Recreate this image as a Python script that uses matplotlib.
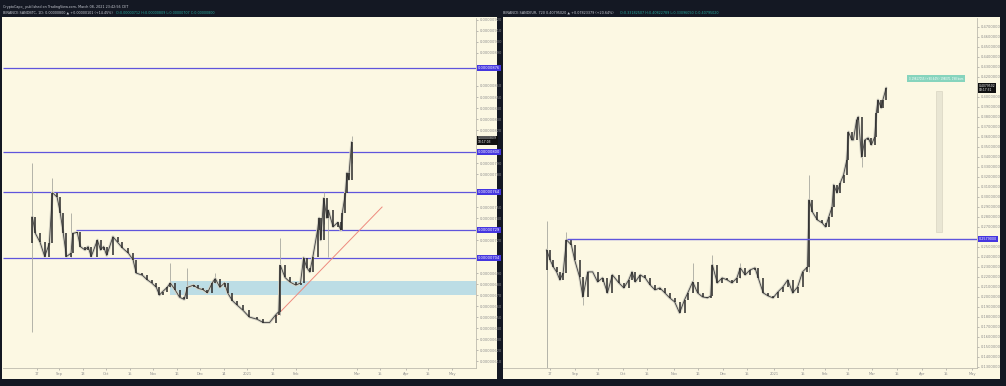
import numpy as np
import matplotlib.pyplot as plt
from matplotlib.patches import Rectangle

# ---- left chart: BINANCE:SANDBTC, 1D (price in satoshi, x = days from Aug 17 2020)
left_days = [-3, -1, 2, 5, 8, 10, 13, 15, 17, 19,
             22, 23, 26, 28, 31, 33, 35, 39, 41, 43,
             45, 49, 52, 55, 59, 62, 64, 68, 71, 74,
             77, 79, 81, 84, 86, 89, 92, 95, 97, 101,
             104, 107, 110, 113, 115, 118, 121, 123, 126, 129,
             133, 137, 142, 146, 150, 154, 156, 157, 160, 163,
             167, 170, 172, 174, 176, 178, 181, 182, 183, 185,
             187, 188, 191, 194, 196, 197, 199, 200, 201, 203]
left_close = [741, 726, 718, 705, 717, 763, 759, 745, 726, 705,
              708, 726, 727, 714, 711, 714, 705, 720, 711, 714,
              706, 723, 718, 713, 708, 702, 690, 688, 684, 681,
              677, 670, 673, 677, 681, 675, 668, 666, 677, 679,
              676, 675, 672, 681, 685, 677, 681, 672, 665, 661,
              656, 650, 648, 645, 645, 652, 655, 697, 686, 682,
              679, 681, 704, 695, 691, 705, 729, 740, 720, 758,
              740, 747, 732, 736, 729, 745, 763, 781, 775, 809]
left_first_open = 717
left_wick_days = [-3, 10, 22, 86, 97, 115, 157, 185, 188, 203]
left_wick_hi = [790, 776, 745, 699, 695, 690, 722, 764, 747, 815]
left_wick_lo = [636, 745, 705, 677, 675, 681, 652, 735, 705, 790]
left_levels = [876, 800, 764, 704]
left_level_partial = 729
left_zone = (670, 683)
left_trend_x = [150.3, 222.6]
left_trend_y = [645, 750]
left_tick_days = [0, 14.2, 29.7, 44.5, 60, 74.8, 90.3, 105.2, 120.6, 135.5,
                  152.3, 167.1, 206.5, 221.3, 238, 252.3, 267.7]
left_tick_labels = ['17', 'Sep', '13', 'Oct', '15', 'Nov', '16', 'Dec', '14', '2021',
                    '15', 'Feb', 'Mar', '15', 'Apr', '15', 'May']

# ---- right chart: BINANCE:SANDEUR, 720
right_days = [-2, 0, 2, 4, 6, 8, 10, 13, 15, 18,
              20, 23, 26, 29, 32, 35, 38, 42, 45, 48,
              50, 52, 55, 58, 61, 64, 67, 70, 73, 76,
              79, 82, 84, 87, 90, 93, 96, 98, 99, 102,
              105, 108, 111, 114, 116, 119, 122, 125, 127, 130,
              133, 136, 139, 142, 145, 148, 151, 154, 157, 158,
              160, 163, 166, 168, 170, 172, 173, 175, 177, 179,
              181, 182, 184, 185, 187, 188, 190, 192, 194, 196,
              198, 199, 200, 202, 203, 205]
right_close = [0.247, 0.237, 0.230, 0.225, 0.217, 0.224, 0.257, 0.252, 0.237, 0.220,
               0.200, 0.225, 0.225, 0.215, 0.219, 0.204, 0.222, 0.214, 0.209, 0.217,
               0.225, 0.215, 0.222, 0.219, 0.212, 0.207, 0.209, 0.204, 0.199, 0.195,
               0.184, 0.197, 0.204, 0.215, 0.204, 0.200, 0.199, 0.201, 0.232, 0.214,
               0.219, 0.217, 0.214, 0.219, 0.229, 0.222, 0.227, 0.229, 0.219, 0.204,
               0.201, 0.199, 0.205, 0.210, 0.217, 0.204, 0.210, 0.225, 0.230, 0.297,
               0.285, 0.277, 0.274, 0.270, 0.280, 0.290, 0.312, 0.304, 0.314, 0.322,
               0.337, 0.365, 0.357, 0.357, 0.377, 0.380, 0.340, 0.357, 0.359, 0.352,
               0.360, 0.384, 0.397, 0.389, 0.397, 0.409]
right_first_open = 0.227
right_wick_days = [-2, 10, 20, 87, 99, 116, 158, 190]
right_wick_hi = [0.276, 0.265, 0.217, 0.234, 0.242, 0.234, 0.322, 0.357]
right_wick_lo = [0.120, 0.240, 0.192, 0.205, 0.214, 0.219, 0.225, 0.330]
right_level = 0.2579
right_tick_days = [0, 15.2, 29.3, 44.5, 59.1, 75.6, 90.2, 105.5, 120.1, 136.6,
                   154.3, 167.7, 181.7, 196.3, 211.6, 226.8, 241.5, 257.3]
right_tick_labels = ['17', 'Sep', '15', 'Oct', '15', 'Nov', '16', 'Dec', '15', '2021',
                     '15', 'Feb', '15', 'Mar', '15', 'Apr', '15', 'May']

DARK = '#141823'
CREAM = '#fcf8e3'
PURPLE = '#5f55dc'
LABEL_BG = '#4536e0'
W, H = 1006, 386

fig = plt.figure(figsize=(W / 100, H / 100), dpi=100, facecolor=DARK)

# cream panels (chart + price scale), kept behind the axes
for x0, x1 in [(2, 497), (503, 1000)]:
    fig.patches.append(Rectangle((x0 / W, 1 - 379 / H), (x1 - x0) / W, 362 / H,
                                 transform=fig.transFigure, facecolor=CREAM,
                                 edgecolor='none', zorder=-10))


def draw_candles(ax, days, close, first_open, wd, whi, wlo):
    opens = [first_open] + close[:-1]
    ax.vlines(wd, wlo, whi, color='#a8a8a0', lw=0.6, zorder=3)
    ax.plot(days, close, color='#d6d4c6', lw=2.0, zorder=3, solid_capstyle='round')
    ax.plot(days, close, color='#404040', lw=0.6, zorder=4)
    ax.vlines(days, opens, close, color='#2a2a2a', lw=1.1, zorder=5)


def style_axes(ax):
    ax.set_facecolor(CREAM)
    for s in ['left', 'top']:
        ax.spines[s].set_visible(False)
    for s in ['right', 'bottom']:
        ax.spines[s].set_color('#bdbbae')
        ax.spines[s].set_linewidth(0.6)
    ax.yaxis.tick_right()
    ax.tick_params(axis='both', labelsize=2.6, colors='#8c8c8c', length=1.5,
                   width=0.4, pad=1.2)


def price_label(ax, y, text, bg, size=2.6):
    ax.text(1.004, y, text, transform=ax.get_yaxis_transform(), fontsize=size,
            color='white', va='center', ha='left', clip_on=False, zorder=10,
            linespacing=1.0,
            bbox=dict(boxstyle='square,pad=0.3', fc=bg, ec='none'))


def free_ticks(ticks, marked, gap):
    # the price scale hides regular ticks that sit under a highlighted label
    return [t for t in ticks if min(abs(t - m) for m in marked) > gap]


# ---- left chart
ax1 = fig.add_axes([3 / W, 18 / H, 473 / W, 350 / H])
style_axes(ax1)
ax1.set_xlim(-21.9, 283.2)
ax1.set_ylim(603.7, 921.8)
ax1.fill_between([86, 283.2], left_zone[0], left_zone[1], color='#bcdde5', lw=0, zorder=1)
ax1.hlines(left_levels, -21.9, 283.2, color=PURPLE, lw=0.9, zorder=2)
ax1.hlines(left_level_partial, 25, 283.2, color=PURPLE, lw=0.9, zorder=2)
ax1.plot(left_trend_x, left_trend_y, color='#ee8a7e', lw=0.7, zorder=2)
draw_candles(ax1, left_days, left_close, left_first_open,
             left_wick_days, left_wick_hi, left_wick_lo)
left_marked = left_levels + [left_level_partial, 811]
yt = free_ticks(np.arange(610, 921, 10), left_marked, 6.5)
ax1.set_yticks(yt, [f'{v / 1e8:.8f}' for v in yt])
ax1.set_xticks(left_tick_days, left_tick_labels)
for lv in left_levels + [left_level_partial]:
    price_label(ax1, lv, f'{lv / 1e8:.8f}', LABEL_BG)
price_label(ax1, 810.5, f'{left_close[-1] / 1e8:.8f}\n10:17:03', '#111111', size=2.2)

# ---- right chart
ax2 = fig.add_axes([503 / W, 18 / H, 474 / W, 350 / H])
style_axes(ax2)
ax2.set_xlim(-28.7, 260.4)
ax2.set_ylim(0.1289, 0.4789)
ax2.hlines(right_level, 10.4, 260.4, color=PURPLE, lw=1.0, zorder=6)
ax2.add_patch(Rectangle((235.4, 0.2649), 3.6, 0.141, facecolor='#e9e6d3',
                        edgecolor='#d2cfbc', lw=0.4, zorder=2))
ax2.text(235.5, 0.418, '0.19817055 (+90.64%) 198070, 198 bars',
         fontsize=1.9, color='white', ha='center', va='center', zorder=6,
         bbox=dict(boxstyle='square,pad=0.6', fc='#86d4bd', ec='none'))
draw_candles(ax2, right_days, right_close, right_first_open,
             right_wick_days, right_wick_hi, right_wick_lo)
yt2 = free_ticks(np.arange(0.13, 0.479, 0.01), [right_level, right_close[-1]], 0.0065)
ax2.set_yticks(yt2, [f'{v:.7f}' for v in yt2])
ax2.set_xticks(right_tick_days, right_tick_labels)
price_label(ax2, right_level, f'{right_level:.7f}', LABEL_BG, size=2.4)
price_label(ax2, right_close[-1], '0.4079502\n03:17:31', '#111111', size=2.2)

# ---- header text
fig.text(3 / W, 1 - 7 / H, 'CryptoCapo_ published on TradingView.com, March 08, 2021 23:42:56 CET',
         fontsize=2.4, color='#c8cbd3', va='center')
fig.text(3 / W, 1 - 12.5 / H, 'BINANCE:SANDBTC, 1D: 0.00000800 \u25b2 +0.00000101 (+14.45%)',
         fontsize=2.4, color='#c8cbd3', va='center')
fig.text(116 / W, 1 - 12.5 / H, 'O:0.00000712 H:0.00000809 L:0.00000707 C:0.00000800',
         fontsize=2.4, color='#26a69a', va='center')
fig.text(503 / W, 1 - 12.5 / H, 'BINANCE:SANDEUR, 720 0.40795020 \u25b2 +0.07823379 (+20.64%)',
         fontsize=2.4, color='#c8cbd3', va='center')
fig.text(620 / W, 1 - 12.5 / H, 'O:0.33182507 H:0.40822789 L:0.33096050 C:0.40795020',
         fontsize=2.4, color='#26a69a', va='center')

fig.savefig('out.png', dpi=100, facecolor=fig.get_facecolor())
